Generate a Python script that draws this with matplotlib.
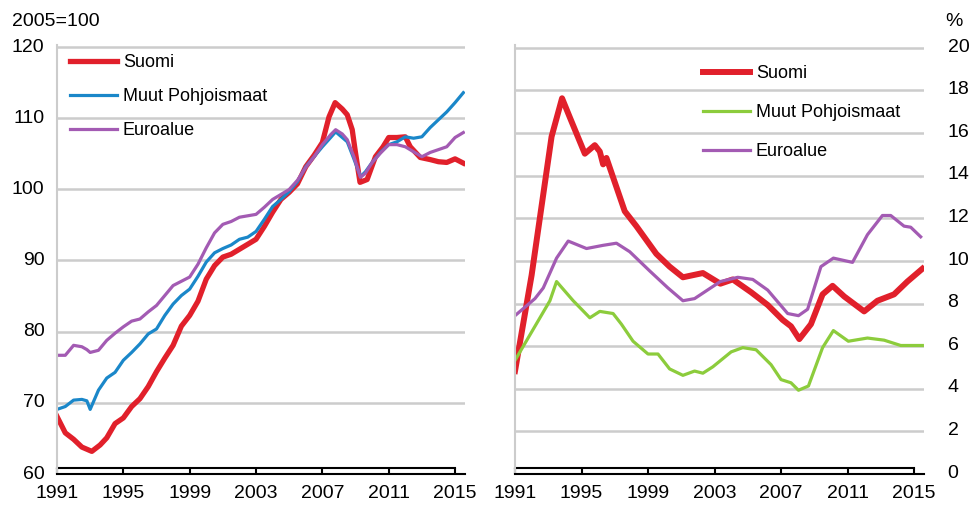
import matplotlib
matplotlib.use("Agg")
import matplotlib.pyplot as plt
from matplotlib.transforms import offset_copy

plt.rcParams['font.family'] = ['Liberation Sans', 'DejaVu Sans']

# left panel: index 2005=100
fi_idx_x = [1991.0, 1991.5, 1992.0, 1992.5, 1993.1, 1993.6, 1994.0, 1994.5, 1995.0, 1995.5,
            1996.0, 1996.5, 1997.0, 1997.5, 1998.0, 1998.5, 1999.0, 1999.5, 2000.0, 2000.5,
            2001.0, 2001.5, 2002.0, 2002.5, 2003.0, 2003.5, 2004.0, 2004.5, 2005.0, 2005.5,
            2006.0, 2006.5, 2007.0, 2007.4, 2007.77, 2008.2, 2008.5, 2008.8, 2008.97, 2009.27,
            2009.7, 2010.2, 2010.66, 2011.0, 2011.5, 2012.0, 2012.3, 2012.9, 2013.5, 2014.0,
            2014.5, 2015.0, 2015.5]
fi_idx = [67.8, 65.5, 64.6, 63.5, 62.9, 63.8, 64.8, 66.8, 67.6, 69.2,
          70.3, 72.0, 74.1, 76.0, 77.8, 80.5, 82.0, 84.0, 87.1, 89.0,
          90.2, 90.6, 91.3, 92.0, 92.7, 94.5, 96.5, 98.3, 99.3, 100.5,
          102.9, 104.5, 106.3, 109.9, 111.9, 111.0, 110.2, 108.1, 105.3, 100.7,
          101.1, 104.3, 105.7, 107.0, 107.0, 107.1, 105.7, 104.2, 103.9, 103.6,
          103.5, 104.0, 103.4]

nord_idx_x = [1991.0, 1991.5, 1992.0, 1992.5, 1992.8, 1993.0, 1993.5, 1994.0, 1994.5, 1995.0,
              1995.5, 1996.0, 1996.5, 1997.0, 1997.5, 1998.0, 1998.5, 1999.0, 1999.5, 2000.0,
              2000.5, 2001.0, 2001.5, 2002.0, 2002.5, 2003.0, 2003.5, 2004.0, 2004.5, 2005.0,
              2005.5, 2006.0, 2006.5, 2007.0, 2007.5, 2007.8, 2008.2, 2008.5, 2008.9, 2009.3,
              2009.6, 2010.0, 2010.5, 2011.0, 2011.5, 2012.0, 2012.5, 2013.0, 2013.5, 2014.0,
              2014.5, 2015.0, 2015.5]
nord_idx = [68.8, 69.2, 70.1, 70.2, 70.0, 68.8, 71.5, 73.2, 74.0, 75.7,
            76.8, 78.0, 79.4, 80.1, 82.0, 83.6, 84.8, 85.7, 87.5, 89.5,
            90.8, 91.4, 91.9, 92.7, 93.0, 93.8, 95.5, 97.3, 98.3, 99.4,
            100.8, 102.9, 104.3, 105.7, 107.0, 107.8, 107.0, 106.4, 104.0, 101.5,
            102.2, 103.5, 104.9, 106.0, 106.4, 107.1, 106.9, 107.1, 108.4, 109.5,
            110.6, 111.9, 113.3]

euro_idx_x = nord_idx_x
euro_idx = [76.4, 76.4, 77.8, 77.6, 77.2, 76.8, 77.1, 78.5, 79.5, 80.4,
            81.2, 81.5, 82.5, 83.4, 84.8, 86.2, 86.8, 87.4, 89.2, 91.5,
            93.6, 94.8, 95.2, 95.8, 96.0, 96.2, 97.2, 98.3, 99.0, 99.7,
            101.0, 102.8, 104.3, 106.0, 107.4, 108.1, 107.5, 106.7, 104.3, 101.4,
            102.0, 103.5, 104.8, 106.0, 106.0, 105.7, 105.0, 104.3, 104.9, 105.3,
            105.7, 107.0, 107.7]

# right panel: unemployment rate, %
fi_ur_x = [1991.0, 1992.0, 1993.2, 1993.83, 1994.3, 1995.2, 1995.8, 1996.1, 1996.3, 1996.5,
           1997.6, 1998.3, 1999.5, 2000.3, 2001.1, 2002.3, 2003.35, 2004.1, 2005.2, 2006.2,
           2007.1, 2007.6, 2008.1, 2008.8, 2009.5, 2010.1, 2010.8, 2012.0, 2012.8, 2013.8,
           2014.6, 2015.5]
fi_ur = [4.7, 9.2, 15.7, 17.5, 16.6, 14.9, 15.3, 15.0, 14.4, 14.7,
         12.2, 11.5, 10.2, 9.6, 9.1, 9.3, 8.8, 9.0, 8.4, 7.8,
         7.1, 6.8, 6.2, 6.9, 8.3, 8.7, 8.2, 7.5, 8.0, 8.3,
         8.9, 9.5]

nord_ur_x = [1991.0, 1991.9, 1992.8, 1993.1, 1993.5, 1994.5, 1995.5, 1996.1, 1996.9, 1997.4,
             1998.1, 1999.0, 1999.6, 2000.3, 2001.1, 2001.8, 2002.3, 2002.9, 2004.0, 2004.7,
             2005.5, 2006.4, 2007.0, 2007.6, 2008.05, 2008.65, 2009.5, 2010.15, 2011.05, 2012.2,
             2013.2, 2014.2, 2015.5]
nord_ur = [5.2, 6.4, 7.6, 8.0, 8.9, 8.0, 7.2, 7.5, 7.4, 6.9,
           6.1, 5.5, 5.5, 4.8, 4.5, 4.7, 4.6, 4.9, 5.6, 5.8,
           5.7, 5.0, 4.3, 4.15, 3.8, 4.0, 5.8, 6.6, 6.1, 6.25,
           6.15, 5.9, 5.9]

euro_ur_x = [1991.0, 1992.2, 1992.7, 1993.5, 1994.2, 1995.3, 1996.3, 1997.1, 1997.9, 1999.1,
             2000.2, 2001.1, 2001.8, 2003.35, 2004.4, 2005.3, 2006.2, 2007.4, 2008.05, 2008.6,
             2009.4, 2010.15, 2011.3, 2012.2, 2013.1, 2013.6, 2014.4, 2014.8, 2015.4]
euro_ur = [7.3, 8.1, 8.6, 10.0, 10.8, 10.45, 10.6, 10.7, 10.3, 9.4,
           8.6, 8.0, 8.1, 8.9, 9.1, 9.0, 8.5, 7.4, 7.3, 7.6,
           9.6, 10.0, 9.8, 11.1, 12.0, 12.0, 11.5, 11.45, 11.0]

years = [1991, 1995, 1999, 2003, 2007, 2011, 2015]
labels = ["Suomi", "Muut Pohjoismaat", "Euroalue"]

RED = "#e1202b"
BLUE = "#1a87c9"
PURPLE = "#a35bb3"
GREEN = "#8ccc3c"
GRID = "#cccccc"

fig = plt.figure(figsize=(9.7, 5.07), dpi=100)
W, H = 970, 507
axL = fig.add_axes([57 / W, 1 - 474 / H, (465 - 57) / W, (474 - 45) / H])
axR = fig.add_axes([515 / W, 1 - 474 / H, (924 - 515) / W, (474 - 45) / H])


def style(ax, ylo, yhi, step):
    ax.set_xlim(1991, 2015.6)
    ax.set_ylim(ylo, yhi)
    for s in ["top", "right"]:
        ax.spines[s].set_visible(False)
    ax.spines["left"].set_color(GRID)
    ax.spines["left"].set_linewidth(1.5)
    ax.spines["bottom"].set_color("black")
    ax.spines["bottom"].set_linewidth(1.5)
    ax.set_xticks(years)
    ax.set_xticklabels([str(y) for y in years], fontsize=14)
    ax.tick_params(axis="x", direction="in", length=4.5, width=1.5, pad=8)
    # second line of the ruler-like x axis
    top = offset_copy(ax.get_xaxis_transform(), fig=fig, y=4.5, units="points")
    ax.plot([1991, 2015], [0, 0], color="black", lw=1.5, transform=top, clip_on=False)
    g = ylo + step
    while g <= yhi + 1e-9:
        ax.axhline(g, color=GRID, lw=1.8, zorder=0)
        g += step


style(axL, 59.72, 120, 10)
axL.set_yticks([60, 70, 80, 90, 100, 110, 120])
axL.tick_params(axis="y", length=0, pad=9, labelsize=14)
axL.plot(fi_idx_x, fi_idx, color=RED, lw=3.8, label=labels[0])
axL.plot(nord_idx_x, nord_idx, color=BLUE, lw=2.3, label=labels[1])
axL.plot(euro_idx_x, euro_idx, color=PURPLE, lw=2.3, label=labels[2])
axL.text(12 / W, 1 - 21 / H, "2005=100", transform=fig.transFigure, fontsize=14, va="center")
axL.legend(loc="upper left", bbox_to_anchor=(0.015, 0.995), frameon=False, fontsize=13,
           handlelength=2.6, handletextpad=0.3, labelspacing=0.94, borderaxespad=0)

style(axR, -0.13, 20, 2)
axR.yaxis.tick_right()
axR.set_yticks(list(range(0, 21, 2)))
axR.tick_params(axis="y", length=0, pad=17, labelsize=14)
axR.plot(fi_ur_x, fi_ur, color=RED, lw=4.3, label=labels[0])
axR.plot(nord_ur_x, nord_ur, color=GREEN, lw=2.3, label=labels[1])
axR.plot(euro_ur_x, euro_ur, color=PURPLE, lw=2.3, label=labels[2])
axR.text(945 / W, 1 - 21 / H, "%", transform=fig.transFigure, fontsize=14, va="center")
axR.legend(loc="upper left", bbox_to_anchor=(0.443, 0.97), frameon=False, fontsize=13,
           handlelength=2.6, handletextpad=0.3, labelspacing=1.22, borderaxespad=0)

fig.savefig("out.png", dpi=100)
